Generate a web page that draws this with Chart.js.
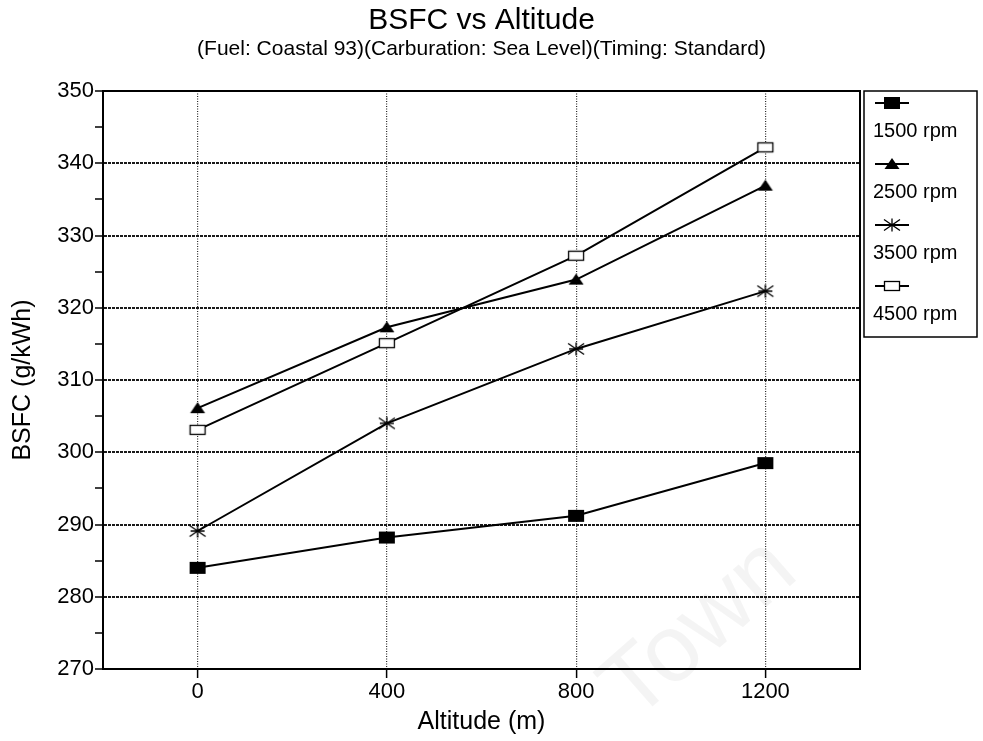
<!DOCTYPE html>
<html>
<head>
<meta charset="utf-8">
<title>BSFC vs Altitude</title>
<script src="https://cdn.jsdelivr.net/npm/chart.js@4.4.1/dist/chart.umd.min.js"></script>
<style>
  html, body { margin: 0; padding: 0; background: #fff; }
</style>
</head>
<body>
<canvas id="grafico" width="983" height="741"></canvas>
<script>
// Altitude (m) on the x axis, BSFC (g/kWh) for each engine speed
const altitudes = [0, 400, 800, 1200];
const altitudeTicks = [0, 400, 800, 1200];
const seriesLabels = ["1500 rpm", "2500 rpm", "3500 rpm", "4500 rpm"];
const bsfc1500 = [284.0, 288.2, 291.2, 298.5];
const bsfc2500 = [306.1, 317.3, 323.9, 336.9];
const bsfc3500 = [289.1, 304.0, 314.3, 322.3];
const bsfc4500 = [303.1, 315.1, 327.2, 342.2];

const FONT = "'Liberation Sans', Arial, Helvetica, sans-serif";

// small canvases used as point markers (plot and legend)
function creaMarcatore(tipo) {
  const c = document.createElement("canvas");
  c.width = 20;
  c.height = 16;
  const g = c.getContext("2d");
  g.fillStyle = "#000";
  g.strokeStyle = "#000";
  g.lineWidth = 1.3;
  if (tipo === "pieno") {
    g.fillRect(2, 2, 16, 12);
  } else if (tipo === "vuoto") {
    g.fillStyle = "#fff";
    g.fillRect(2.5, 3.5, 15, 9);
    g.strokeRect(2.5, 3.5, 15, 9);
  } else if (tipo === "triangolo") {
    g.beginPath();
    g.moveTo(10, 2);
    g.lineTo(17.5, 13);
    g.lineTo(2.5, 13);
    g.closePath();
    g.fill();
  } else if (tipo === "stella") {
    g.beginPath();
    g.moveTo(10, 1.5); g.lineTo(10, 14.5);
    g.moveTo(2, 2.5); g.lineTo(18, 13.5);
    g.moveTo(2, 13.5); g.lineTo(18, 2.5);
    g.moveTo(3, 8); g.lineTo(17, 8);
    g.stroke();
  }
  return c;
}

const marcatori = [
  creaMarcatore("pieno"),
  creaMarcatore("triangolo"),
  creaMarcatore("stella"),
  creaMarcatore("vuoto")
];

function serie(valori) {
  return valori.map(function (v, i) { return { x: altitudes[i], y: v }; });
}

const seriesValues = [bsfc1500, bsfc2500, bsfc3500, bsfc4500];

const datasets = seriesLabels.map(function (nome, i) {
  return {
    label: nome,
    data: serie(seriesValues[i]),
    borderColor: "#000",
    backgroundColor: "#000",
    borderWidth: 2,
    pointStyle: marcatori[i],
    pointRadius: 8,
    tension: 0
  };
});

// faint rotated watermark behind the plot
const filigrana = {
  id: "filigrana",
  beforeDatasetsDraw: function (chart) {
    const ctx = chart.ctx;
    ctx.save();
    ctx.translate(700, 630);
    ctx.rotate(-0.72);
    ctx.font = "95px " + FONT;
    ctx.fillStyle = "rgba(0,0,0,0.045)";
    ctx.textAlign = "center";
    ctx.textBaseline = "middle";
    ctx.fillText("Town", 0, 0);
    ctx.restore();
  }
};

// full frame around the plot area
const cornice = {
  id: "cornice",
  afterDatasetsDraw: function (chart) {
    const a = chart.chartArea;
    const ctx = chart.ctx;
    ctx.save();
    ctx.strokeStyle = "#000";
    ctx.lineWidth = 2;
    ctx.strokeRect(a.left, a.top, a.right - a.left, a.bottom - a.top);
    ctx.restore();
  }
};

// legend box on the right: line sample with marker, label underneath
const legendaBox = {
  id: "legendaBox",
  afterDraw: function (chart) {
    const a = chart.chartArea;
    const ctx = chart.ctx;
    const x0 = a.right + 4;
    const y0 = a.top;
    const w = 113;
    const h = 246;
    ctx.save();
    ctx.strokeStyle = "#000";
    ctx.lineWidth = 1.5;
    ctx.strokeRect(x0, y0, w, h);
    ctx.font = "20px " + FONT;
    ctx.fillStyle = "#000";
    ctx.textBaseline = "middle";
    ctx.textAlign = "left";
    chart.data.datasets.forEach(function (ds, i) {
      const ys = y0 + 12 + i * 61;
      ctx.lineWidth = 1.8;
      ctx.beginPath();
      ctx.moveTo(x0 + 11, ys);
      ctx.lineTo(x0 + 45, ys);
      ctx.stroke();
      const m = ds.pointStyle;
      ctx.drawImage(m, x0 + 28 - m.width / 2, ys - m.height / 2);
      ctx.fillText(ds.label, x0 + 9, ys + 28);
    });
    ctx.restore();
  }
};

new Chart(document.getElementById("grafico"), {
  type: "line",
  data: { datasets: datasets },
  plugins: [filigrana, cornice, legendaBox],
  options: {
    responsive: false,
    devicePixelRatio: 1,
    animation: false,
    layout: { padding: { left: 0, right: 123, top: 0, bottom: 0 } },
    scales: {
      x: {
        type: "linear",
        min: -200,
        max: 1400,
        afterBuildTicks: function (s) {
          s.ticks = altitudeTicks.map(function (v) { return { value: v }; });
        },
        afterFit: function (s) { s.height = 72; },
        ticks: {
          color: "#000",
          font: { family: FONT, size: 22 },
          padding: 1,
          callback: function (v) { return String(v); }
        },
        grid: { color: "#2a2a2a", lineWidth: 1.2, tickColor: "#000", tickLength: 9, tickWidth: 1.5 },
        border: { color: "#000", width: 2, dash: [1, 1.5] },
        title: {
          display: true,
          text: "Altitude (m)",
          color: "#000",
          font: { family: FONT, size: 25 },
          padding: { top: 0, bottom: 4 }
        }
      },
      y: {
        min: 270,
        max: 350,
        afterFit: function (s) { s.width = 103; },
        ticks: {
          stepSize: 5,
          color: "#000",
          font: { family: FONT, size: 22 },
          padding: 1,
          callback: function (v) { return v % 10 === 0 ? String(v) : ""; }
        },
        grid: {
          color: function (c) {
            return c.tick && c.tick.value % 10 === 0 ? "#1a1a1a" : "rgba(0,0,0,0)";
          },
          lineWidth: 2,
          tickColor: "#000",
          tickLength: 8,
          tickWidth: 1.5
        },
        border: { color: "#000", width: 2, dash: [3, 1] },
        title: {
          display: true,
          text: "BSFC (g/kWh)",
          color: "#000",
          font: { family: FONT, size: 25 },
          padding: { top: 8, bottom: 0 }
        }
      }
    },
    plugins: {
      legend: { display: false },
      tooltip: { enabled: false },
      title: {
        display: true,
        fullSize: false,
        text: "BSFC vs Altitude",
        color: "#000",
        font: { family: FONT, size: 30, weight: "normal", lineHeight: 1 },
        padding: { top: 6, bottom: 0 }
      },
      subtitle: {
        display: true,
        fullSize: false,
        text: "(Fuel: Coastal 93)(Carburation: Sea Level)(Timing: Standard)",
        color: "#000",
        font: { family: FONT, size: 21, lineHeight: 1 },
        padding: { top: 3, bottom: 31 }
      }
    }
  }
});
</script>
</body>
</html>
